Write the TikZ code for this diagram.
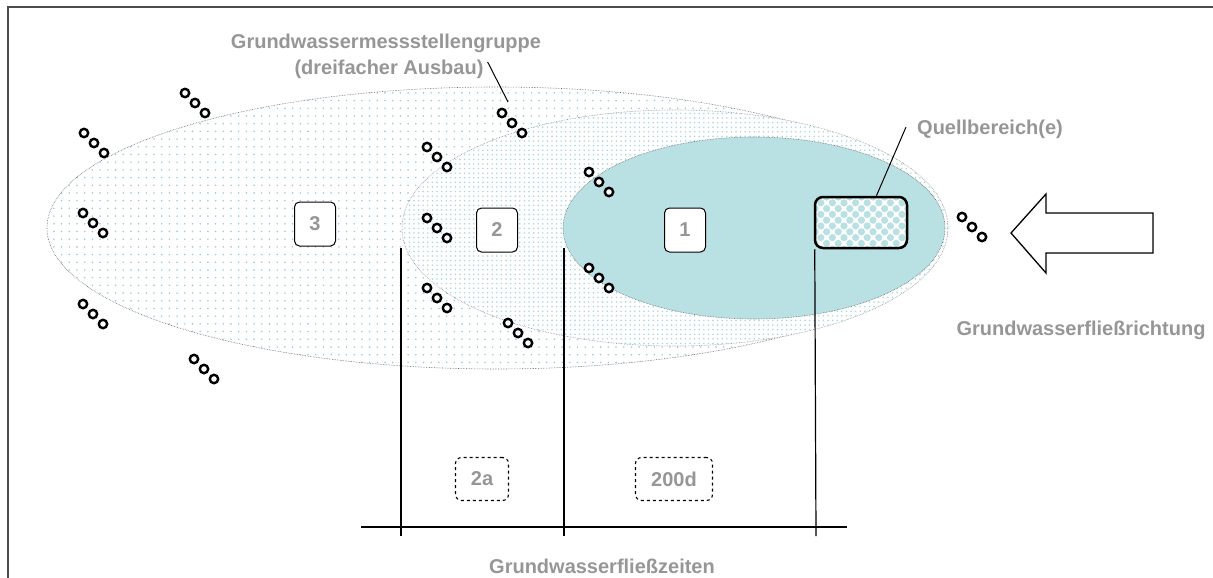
\documentclass[tikz,border=0pt]{standalone}
\usepackage{fontspec}
\setmainfont{Liberation Sans}
\usepackage{tikz}
\usetikzlibrary{patterns.meta}
\usepackage{xcolor}
\definecolor{poolcyan}{RGB}{185,224,227}
\definecolor{dotcyan}{RGB}{150,208,215}
\definecolor{labelgray}{RGB}{150,150,150}

\begin{document}
\begin{tikzpicture}[x=1pt, y=-1pt,
    lbl/.style={font=\bfseries\fontsize{20}{23}\selectfont, text=labelgray, inner sep=2pt},
    numbox/.style={lbl, draw=black, line width=1pt, rounded corners=5pt, fill=white,
      minimum width=41pt, minimum height=44pt},
    timebox/.style={lbl, draw=black, dashed, line width=1.1pt, rounded corners=6pt, minimum height=43pt},
    zone/.style={draw=black!60, densely dotted, line width=0.6pt},
    well/.style={draw=black, line width=2.4pt, fill=white},
    leader/.style={draw=black, line width=1pt},
    limit/.style={draw=black, line width=1.2pt}]
  \useasboundingbox (0,0) rectangle (1213,578);
  % frame
  \draw[black!70, line width=2pt] (8,578) -- (8,7) -- (1213,7);

  % capture zones (3 outer, 2 middle, 1 inner)
  \path[fill=white, postaction={pattern={Dots[distance=7.7pt, radius=0.9pt]}, pattern color=dotcyan}]
    (496,228) ellipse [x radius=449, y radius=141];
  \draw[zone] (496,228) ellipse [x radius=449, y radius=141];
  \path[fill=white, postaction={pattern={Dots[distance=4.6pt, radius=0.9pt]}, pattern color=dotcyan!80}]
    (675,228) ellipse [x radius=273, y radius=118];
  \draw[zone, draw=black!45] (675,228) ellipse [x radius=273, y radius=118];
  \draw[zone, fill=poolcyan] (754,228) ellipse [x radius=191, y radius=91];

  % source area, checkered
  \begin{scope}
    \clip[rounded corners=8pt] (815,197) rectangle (907,248);
    \fill[white] (815,197) rectangle (907,248);
    \foreach \i in {0,...,16} {
      \foreach \j in {0,...,9} {
        \pgfmathtruncatemacro\chk{mod(\i+\j,2)}
        \ifnum\chk=0 \fill[poolcyan] (815+\i*5.8,197+\j*5.8) circle (3.6); \fi
      }
    }
  \end{scope}
  \node[draw=black, line width=2.5pt, rounded corners=8pt, minimum width=92pt, minimum height=51pt] (qbox) at (861,222.5) {};

  % zone numbers
  \node[numbox] (zone3) at (315,224) {3};
  \node[numbox] (zone2) at (497,230) {2};
  \node[numbox] (zone1) at (685,230) {1};

  % monitoring well groups (three depths)
  \foreach \x/\y in {185/93, 84/133, 83/213, 83/304, 194/359, 502/113, 427/147, 427/218,
                     427/288, 508/323, 589/172, 589/268, 962/217} {
    \foreach \k in {0,1,2}
      \draw[well] (\x+10*\k,\y+10*\k) circle (4.2);
  }

  % labels and leaders
  \node[lbl] (grptitle) at (386,43) {Grundwassermessstellengruppe};
  \node[lbl] (grpsub) at (389,69) {(dreifacher Ausbau)};
  \coordinate (grptip) at (508,102);
  \draw[leader] (grpsub.east) ++(2,-7) -- (grptip);
  \node[lbl] (qlabel) at (990,129) {Quellbereich(e)};
  \draw[leader] (qlabel.west) ++(-9,-2) -- (qbox.60);

  % flow direction arrow
  \draw[line width=1.3pt, fill=white, line join=miter]
    (1011,233) -- (1046,194) -- (1046,213) -- (1153,213) -- (1153,253) -- (1046,253) -- (1046,273) -- cycle;
  \node[lbl] (flowdir) at (1081,330) {Grundwasserfließrichtung};

  % travel time axis
  \coordinate (lim2a) at (401,248);
  \coordinate (lim200d) at (564,248);
  \coordinate (b2a) at (401,536);
  \coordinate (b200d) at (564,536);
  \coordinate (bq) at (816,536);
  \coordinate (axl) at (361,527);
  \coordinate (axr) at (847,527);
  \draw[limit] (lim2a) -- (b2a);
  \draw[limit] (lim200d) -- (b200d);
  \draw[limit] (qbox.south west) ++(1,0) -- (bq);
  \draw[black, line width=1.8pt] (axl) -- (axr);
  \node[timebox, minimum width=53pt] (t2a) at (482,479) {2a};
  \node[timebox, minimum width=77pt] (t200d) at (674,479) {200d};
  \node[lbl] (flowtime) at (602,566) {Grundwasserfließzeiten};
\end{tikzpicture}
\end{document}
